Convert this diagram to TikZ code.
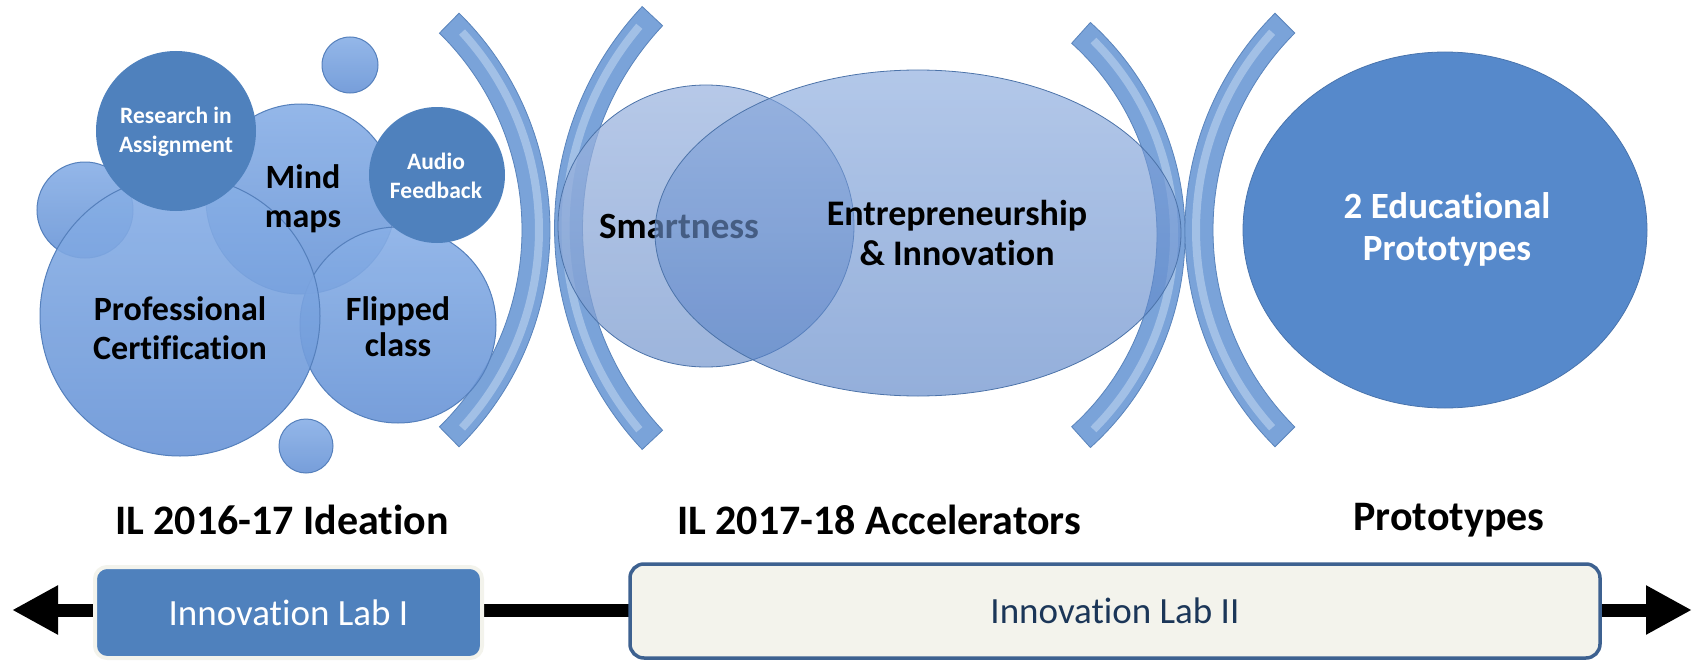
\documentclass[tikz,border=0pt]{standalone}
\usepackage{fontspec}
\setmainfont{Carlito}[Ligatures = NoCommon]
\usetikzlibrary{shapes.geometric,arrows.meta,calc}

\definecolor{ideablue}{HTML}{4F81BD}
\definecolor{bubbletop}{HTML}{88AFE6}
\definecolor{bubblebot}{HTML}{6894D6}
\definecolor{bubbleedge}{HTML}{5580BC}
\definecolor{smarttop}{HTML}{9EB6E0}
\definecolor{smartbot}{HTML}{7C9CD0}
\definecolor{entretop}{HTML}{86A7DC}
\definecolor{entrebot}{HTML}{5580C5}
\definecolor{bandblue}{HTML}{7AA3D9}
\definecolor{bandedge}{HTML}{5A84BC}
\definecolor{bandlight}{HTML}{D4E4F7}
\definecolor{protoblue}{HTML}{5689CB}
\definecolor{labpaper}{HTML}{F3F3EC}
\definecolor{labedge}{HTML}{3D6190}
\definecolor{labink}{HTML}{1B3658}

\tikzset{
  bubble/.style = {circle, draw = bubbleedge, line width = 1pt, top color = bubbletop, bottom color = bubblebot, fill opacity = 0.9, inner sep = 0pt, minimum size = #1},
  darkbubble/.style = {circle, fill = ideablue, inner sep = 0pt, minimum size = #1},
  bubbletext/.style = {align = center, font = \bfseries\fontsize{34}{39}\selectfont},
  smalltext/.style = {align = center, text = white, font = \bfseries\fontsize{23.5}{29}\selectfont},
  lens/.style = {ellipse, draw = bubbleedge!90!black, line width = 0.8pt, inner sep = 0pt},
  stagelabel/.style = {font = \bfseries\fontsize{42}{50}\selectfont},
  labbox/.style = {rectangle, rounded corners = 12pt, font = \fontsize{37}{44}\selectfont, inner sep = 0pt},
  band/.style = {fill = bandblue, draw = bandedge, line width = 0.8pt}
}

\begin{document}
\begin{tikzpicture}[x = 1pt, y = -1pt]
  \useasboundingbox (0,0) rectangle (1698,661);

  % time line
  \coordinate (tl west) at (12,610);
  \coordinate (tl east) at (1692,610);
  \draw[line width = 13pt, {Triangle[length = 46pt, width = 46pt]}-{Triangle[length = 46pt, width = 46pt]}] (tl west) -- (tl east);
  \node[labbox, fill = ideablue, draw = labpaper, line width = 4pt, text = white, minimum width = 387, minimum height = 91] (lab one) at (288.5,612.5) {Innovation Lab I};
  \node[labbox, rounded corners = 14pt, fill = labpaper, draw = labedge, line width = 3.5pt, text = labink, minimum width = 970, minimum height = 94] (lab two) at (1115,611) {Innovation Lab II};

  % stages
  \node[stagelabel] (ideation) at (282,520) {IL 2016-17 Ideation};
  \node[stagelabel] (accel) at (879,520) {IL 2017-18 Accelerators};
  \node[stagelabel] (protos) at (1449,520) {Prototypes};

  % brackets
  \foreach \cx/\cy/\r/\a/\m in {246/230/290/45.5/0, 878/228/309.5/43.2/180, 899/235/272/48/0, 1491/230/292/45.1/180}{
    \filldraw[band] ($(\cx,\cy)+(\m-\a:\r+14)$) arc[start angle = \m-\a, end angle = \m+\a, radius = \r+14]
      -- ($(\cx,\cy)+(\m+\a:\r-14)$) arc[start angle = \m+\a, end angle = \m-\a, radius = \r-14] -- cycle;
    \draw[bandlight, line width = 8pt, opacity = 0.45] ($(\cx,\cy)+(\m-\a+3:\r+3)$) arc[start angle = \m-\a+3, end angle = \m+\a-3, radius = \r+3];
  }

  % ideation bubbles
  \node[bubble = 56] (dot top) at (350,65) {};
  \node[bubble = 96] (dot left) at (85,210) {};
  \node[bubble = 190] (mind) at (301,199) {};
  \node[bubble = 196] (flipped) at (398,325) {};
  \node[bubble = 280] (prof) at (180,316) {};
  \node[bubble = 54] (dot bottom) at (306,446) {};
  \node[darkbubble = 160] (research) at (176,131) {};
  \node[darkbubble = 136] (audio) at (437,175) {};
  \node[bubbletext] (prof text) at (180,328) {Professional\\Certification};
  \node[bubbletext] (mind text) at (303,199) {Mind\\maps};
  \node[bubbletext, font = \bfseries\fontsize{34}{36}\selectfont] (flipped text) at (398,327) {Flipped\\class};
  \node[smalltext] (research text) at (176,132) {Research in\\Assignment};
  \node[smalltext] (audio text) at (436,176) {Audio\\Feedback};

  % accelerators
  \node[lens, top color = smarttop, bottom color = smartbot, fill opacity = 0.75, minimum width = 296, minimum height = 282] (smart) at (706,226) {};
  \node[bubbletext, font = \bfseries\fontsize{37}{40}\selectfont] (smart text) at (679,227) {Smartness};
  \node[lens, top color = entretop, bottom color = entrebot, fill opacity = 0.63, minimum width = 526, minimum height = 326] (entre) at (918,233) {};
  \node[bubbletext, font = \bfseries\fontsize{36}{40}\selectfont] (entre text) at (957,233) {Entrepreneurship\\\& Innovation};

  % prototypes
  \node[ellipse, fill = protoblue, draw = protoblue!85!black, line width = 0.8pt, minimum width = 404, minimum height = 356] (proto) at (1445,230) {};
  \node[bubbletext, text = white, font = \bfseries\fontsize{37}{42}\selectfont] (proto text) at (1447,229) {2 Educational\\Prototypes};
\end{tikzpicture}
\end{document}
